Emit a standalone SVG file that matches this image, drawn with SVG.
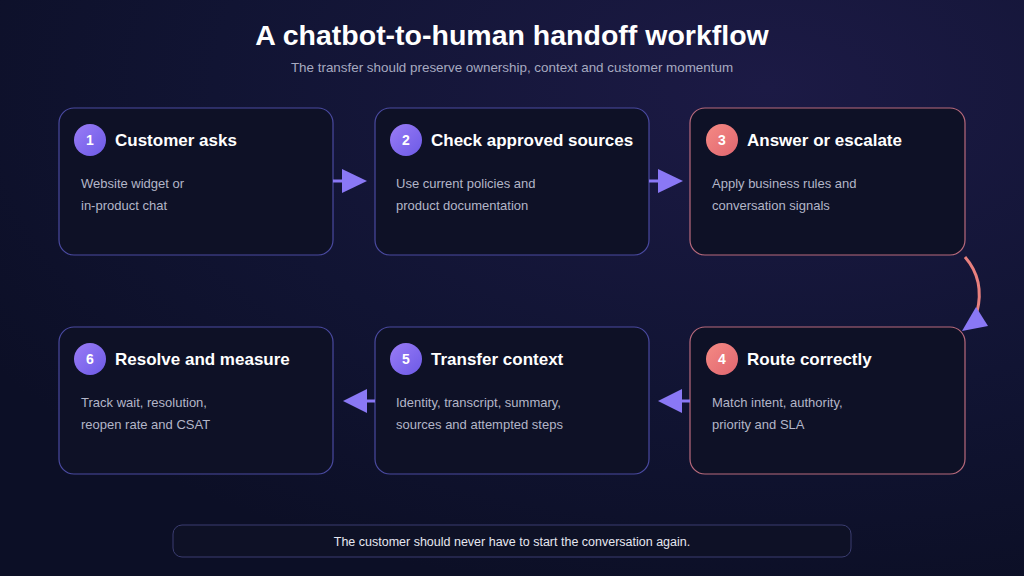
<svg xmlns="http://www.w3.org/2000/svg" width="1024" height="576" viewBox="0 0 1024 576">
<defs>
<radialGradient id="bg" cx="0.75" cy="0.15" r="0.9"><stop offset="0" stop-color="#1c1a45"/><stop offset="0.6" stop-color="#111433"/><stop offset="1" stop-color="#0c0f26"/></radialGradient>
<linearGradient id="pb" x1="0" y1="0" x2="1" y2="1"><stop offset="0" stop-color="#9a7cf6"/><stop offset="1" stop-color="#6c5ae6"/></linearGradient>
<linearGradient id="rb" x1="0" y1="0" x2="1" y2="1"><stop offset="0" stop-color="#f58a84"/><stop offset="1" stop-color="#e06670"/></linearGradient>
<style>
.card{fill:#0e1126;stroke:#4a4aa0;stroke-width:1.2}
.card.r{stroke:#b86a7c}
.num{font:bold 14px "Liberation Sans",Arial,sans-serif;fill:#fff;text-anchor:middle}
.tt{font:bold 17px "Liberation Sans",Arial,sans-serif;fill:#fff}
.ds{font:13px "Liberation Sans",Arial,sans-serif;fill:#b3b6c8}
.ln{stroke:#8a78f5;stroke-width:3;fill:none}
.ah{fill:#8a78f5}
</style>
</defs>
<rect width="1024" height="576" fill="url(#bg)"/>
<text x="512" y="45" text-anchor="middle" font-family="Liberation Sans,Arial,sans-serif" font-weight="bold" font-size="28.5" fill="#fff">A chatbot-to-human handoff workflow</text>
<text x="512" y="72" text-anchor="middle" font-family="Liberation Sans,Arial,sans-serif" font-size="13.4" fill="#a7aac0">The transfer should preserve ownership, context and customer momentum</text>
<g id="n1"><rect class="card" x="59" y="108" width="274" height="147" rx="15"/><circle cx="90" cy="140" r="16" fill="url(#pb)"/><text class="num" x="90" y="145">1</text><text class="tt" x="115" y="146">Customer asks</text><text class="ds" x="81" y="188">Website widget or</text><text class="ds" x="81" y="210">in-product chat</text></g>
<g id="n2"><rect class="card" x="375" y="108" width="274" height="147" rx="15"/><circle cx="406" cy="140" r="16" fill="url(#pb)"/><text class="num" x="406" y="145">2</text><text class="tt" x="431" y="146">Check approved sources</text><text class="ds" x="396" y="188">Use current policies and</text><text class="ds" x="396" y="210">product documentation</text></g>
<g id="n3"><rect class="card r" x="690" y="108" width="275" height="147" rx="15"/><circle cx="722" cy="140" r="16" fill="url(#rb)"/><text class="num" x="722" y="145">3</text><text class="tt" x="747" y="146">Answer or escalate</text><text class="ds" x="712" y="188">Apply business rules and</text><text class="ds" x="712" y="210">conversation signals</text></g>
<g id="n4"><rect class="card r" x="690" y="327" width="275" height="147" rx="15"/><circle cx="722" cy="359" r="16" fill="url(#rb)"/><text class="num" x="722" y="364">4</text><text class="tt" x="747" y="365">Route correctly</text><text class="ds" x="712" y="407">Match intent, authority,</text><text class="ds" x="712" y="429">priority and SLA</text></g>
<g id="n5"><rect class="card" x="375" y="327" width="274" height="147" rx="15"/><circle cx="406" cy="359" r="16" fill="url(#pb)"/><text class="num" x="406" y="364">5</text><text class="tt" x="431" y="365">Transfer context</text><text class="ds" x="396" y="407">Identity, transcript, summary,</text><text class="ds" x="396" y="429">sources and attempted steps</text></g>
<g id="n6"><rect class="card" x="59" y="327" width="274" height="147" rx="15"/><circle cx="90" cy="359" r="16" fill="url(#pb)"/><text class="num" x="90" y="364">6</text><text class="tt" x="115" y="365">Resolve and measure</text><text class="ds" x="81" y="407">Track wait, resolution,</text><text class="ds" x="81" y="429">reopen rate and CSAT</text></g>
<g id="connectors">
<line class="ln" x1="333" y1="181" x2="346" y2="181"/><polygon class="ah" points="342,169 367,181 342,193"/>
<line class="ln" x1="649" y1="181" x2="662" y2="181"/><polygon class="ah" points="658,169 683,181 658,193"/>
<path d="M965,257 Q985,280 977,312" stroke="#e8807e" stroke-width="3" fill="none"/><polygon class="ah" points="962,331 988,326 976,307"/>
<line class="ln" x1="690" y1="401" x2="676" y2="401"/><polygon class="ah" points="682,389 658,401 682,413"/>
<line class="ln" x1="375" y1="401" x2="361" y2="401"/><polygon class="ah" points="367,389 343,401 367,413"/>
</g>
<g id="footer"><rect x="173" y="525" width="678" height="32" rx="9" fill="#0e1126" stroke="#3b3d70"/><text x="512" y="546" text-anchor="middle" font-family="Liberation Sans,Arial,sans-serif" font-size="12.5" fill="#e6e7f0">The customer should never have to start the conversation again.</text></g>
</svg>
